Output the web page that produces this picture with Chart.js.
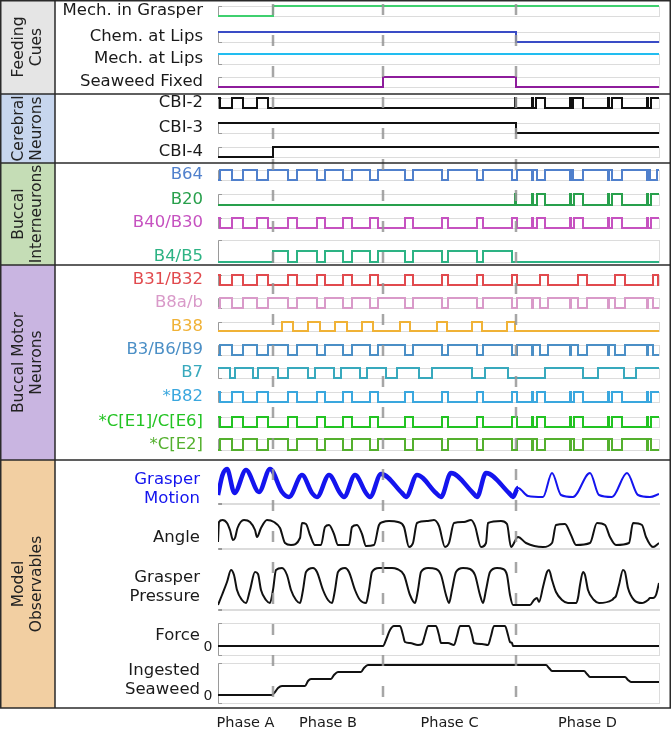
<!DOCTYPE html>
<html><head><meta charset="utf-8">
<script src="https://cdn.jsdelivr.net/npm/chart.js@4"></script>
<style>html,body{margin:0;padding:0;background:#fff;}canvas{display:block}</style>
</head><body>
<canvas id="c" width="671" height="733"></canvas>
<script>
// ---------------- DATA (time in s) ----------------
const T_END = 44.1;
const phaseNames = ['Phase A', 'Phase B', 'Phase C', 'Phase D'];
const phaseBounds = [0, 5.5, 16.5, 29.8, 44.1];
const groupNames = ['Feeding\nCues', 'Cerebral\nNeurons', 'Buccal\nInterneurons', 'Buccal Motor\nNeurons', 'Model\nObservables'];

// step traces: intervals [on, off] when the signal is high
const mechInGrasper = [[5.5, 44.1]];
const chemAtLips = [[0, 29.8]];
const mechAtLips = [[0, 44.1]];
const seaweedFixed = [[16.5, 29.8]];
const cbi2 = [[0,0.2],[1.4,2.5],[3.9,5.0],[29.7,29.8],[31.4,31.5],[31.8,32.7],[35.2,35.3],[35.5,36.5],[39.0,39.1],[39.4,40.4],[42.9,43.0],[43.3,44.1]];
const cbi3 = [[0, 29.8]];
const cbi4 = [[5.5, 44.1]];
const b64 = [[0.2,1.4],[2.5,3.9],[5.0,7.0],[7.9,9.9],[10.7,12.5],[13.4,15.2],[16.0,18.7],[19.5,22.4],[23.0,25.9],[26.5,29.4],[29.9,31.4],[31.5,31.9],[32.7,35.2],[35.3,35.5],[36.5,39.0],[39.1,39.4],[40.4,42.9],[43.0,43.2],[43.9,44.1]];
const b20 = [[29.7,29.8],[31.4,31.5],[31.9,32.7],[35.2,35.3],[35.6,36.5],[39.0,39.1],[39.4,40.4],[42.9,43.0],[43.3,44.1]];
const b40b30 = [[0,0.2],[1.4,2.5],[3.9,5.0],[7.0,7.9],[9.9,10.7],[12.5,13.4],[15.2,16.0],[18.7,19.5],[22.4,23.0],[25.9,26.5],[29.4,29.9],[31.4,31.5],[31.9,32.7],[35.2,35.3],[35.6,36.5],[39.0,39.1],[39.4,40.4],[42.9,43.0],[43.3,44.1]];
const b4b5 = [[5.5,7.0],[7.9,9.9],[10.7,12.5],[13.4,15.2],[16.0,18.7],[19.5,22.4],[23.0,25.9],[26.5,29.4]];
const b31b32 = [[0,0.2],[1.4,2.5],[3.9,5.0],[7.0,7.9],[9.9,10.7],[12.5,13.4],[15.2,16.0],[18.7,19.5],[22.4,23.0],[25.9,26.5],[29.4,29.9],[32.2,33.0],[36.0,36.9],[39.7,40.7],[43.5,44.0]];
const b8ab = [[0.2,1.4],[2.5,3.9],[5.0,7.0],[7.9,9.9],[10.7,12.5],[13.4,15.2],[16.0,18.7],[19.5,22.4],[23.0,25.9],[26.5,29.4],[29.9,31.4],[31.5,32.2],[33.0,35.2],[35.3,36.0],[36.9,39.0],[39.1,39.7],[40.7,42.9],[43.0,43.5]];
const b38 = [[6.4,7.5],[9.0,10.2],[11.7,12.9],[14.4,15.5],[18.2,19.2],[21.9,22.9],[25.4,26.4],[28.9,29.7]];
const b3b6b9 = [[0.2,1.4],[2.5,3.9],[5.0,7.0],[7.9,9.9],[10.7,12.5],[13.4,15.2],[16.0,18.7],[19.5,22.4],[23.0,25.9],[26.5,29.4],[29.9,31.4],[31.5,32.2],[33.0,35.2],[35.3,36.0],[36.9,39.0],[39.1,39.7],[40.7,42.9],[43.0,43.5]];
const b7 = [[0,1.2],[1.7,3.5],[4.0,6.0],[7.0,9.0],[9.7,11.6],[12.3,14.2],[14.9,16.8],[17.9,20.1],[21.4,25.4],[26.7,29.0],[32.7,36.5],[38.0,40.6],[41.8,44.1]];
const b82 = [[0,0.2],[1.4,2.5],[3.9,5.0],[7.0,7.9],[9.9,10.7],[12.5,13.4],[15.2,16.0],[18.7,19.5],[22.4,23.0],[25.9,26.5],[29.4,29.9],[31.4,31.5],[31.9,32.7],[35.2,35.3],[35.6,36.5],[39.0,39.1],[39.4,40.4],[42.9,43.0],[43.3,44.1]];
const cE1E6 = [[0,0.2],[1.4,2.5],[3.9,5.0],[7.0,7.9],[9.9,10.7],[12.5,13.4],[15.2,16.0],[18.7,19.5],[22.4,23.0],[25.9,26.5],[29.4,29.9],[31.4,31.5],[31.9,32.7],[35.2,35.3],[35.6,36.5],[39.0,39.1],[39.4,40.4],[42.9,43.0],[43.3,44.1]];
const cE2 = [[0.2,1.4],[2.5,3.9],[5.0,7.0],[7.9,9.9],[10.7,12.5],[13.4,15.2],[16.0,18.7],[19.5,22.4],[23.0,25.9],[26.5,29.4],[29.9,31.4],[31.5,31.9],[32.7,35.2],[35.3,35.6],[36.5,39.0],[39.1,39.4],[40.4,42.9],[43.0,43.3]];

// model observables (time, value)
const graspMotionT = [0.0,0.45,0.9,1.65,2.8,4.1,5.2,6.4,7.1,8.4,9.4,9.9,11.1,12.2,12.6,13.7,14.8,15.2,16.3,18.4,18.8,19.9,21.8,22.3,23.3,25.5,25.9,26.8,29.1,29.5,30.0,31.0,32.5,33.4,34.3,35.5,37.2,38.1,39.4,40.9,42.0,43.2,44.1];
const graspMotionV = [9,29,35,11,34,12,35,12,7,29,11,7,29,11,7,29,11,7,30,11,7,29,11,7,31,11,7,31,11,7,16,8,7,31,9,7,31,9,7,31,9,7,10];
const angleT = [0,0.1,0.45,0.9,1.2,1.5,1.7,1.95,2.6,3.2,3.7,3.9,4.3,4.9,5.6,6.2,6.7,7.3,8.2,8.4,8.8,9.2,9.7,10.3,10.7,11.1,11.6,12.0,13.1,13.4,13.9,14.4,14.8,15.6,16.1,16.5,17.1,18.0,18.6,19.1,19.5,19.9,21.0,21.6,22.1,22.7,23.1,23.6,24.6,25.3,25.7,26.3,26.8,27.0,28.3,28.9,29.3,30.0,30.8,32.5,33.4,33.8,34.7,35.3,35.8,37.2,37.9,38.7,39.2,39.8,41.1,41.5,42.4,42.8,43.5,44.1];
const angleV = [7,27,29,26,19,9,11,21,29,27,19,12,21,29,27,21,6,4,11,26,25,14,4,4,22,24,15,4,4,22,24,15,3,4,24,27,28,27,22,2,6,26,28,29,23,2,6,26,27,29,23,2,6,26,28,25,2,12,6,2,6,24,25,14,4,6,26,24,12,4,6,26,24,12,2,6];
const pressureT = [0.0,0.4,0.9,1.3,1.6,1.9,2.4,2.8,3.2,3.7,4.0,4.3,4.8,5.2,5.5,5.8,6.4,6.9,7.3,7.8,8.2,8.5,8.8,9.5,9.9,10.5,11.0,11.4,11.7,12.0,12.7,13.1,13.7,14.2,14.8,15.1,15.4,16.1,16.7,17.4,17.9,18.6,19.2,19.7,20.0,20.3,21.0,21.8,22.3,22.8,23.1,23.4,23.8,24.5,25.2,25.7,26.2,26.5,26.8,27.2,27.9,28.5,28.9,29.2,29.5,31.2,31.6,31.9,32.1,32.5,32.9,33.1,33.4,33.8,34.4,35.0,35.8,36.0,36.2,36.5,36.7,37.0,37.6,38.1,39.4,39.6,39.8,40.1,40.5,40.7,41.0,41.6,42.4,43.0,43.2,43.5,43.8,44.1];
const pressureV = [5,15,28,40,35,20,10,7,20,38,36,20,10,7,20,40,42,35,20,10,7,20,38,42,38,20,10,7,20,38,42,38,20,10,7,20,38,42,42,42,41,35,15,7,20,38,42,41,35,15,7,20,38,42,41,35,15,7,20,38,42,41,35,15,5,5,10,12,8,23,38,40,30,18,10,7,7,12,25,38,35,20,10,7,10,12,14,25,40,38,22,10,7,10,12,12,15,27];
const forceT = [0,16.5,16.8,17.2,17.6,18.2,18.5,18.7,19.2,20.0,20.4,20.7,21.0,21.8,22.1,22.3,23.0,23.6,23.9,24.2,25.1,25.4,25.6,26.4,27.0,27.3,27.6,28.7,29.0,29.2,29.4,29.5,44.1];
const forceV = [0,0,6,16,20,20,11,4,3,1,2,11,20,20,11,3,3,1,10,20,20,11,3,2,1,10,20,20,11,4,3,0,0];
const seaweedT = [0.0,5.4,5.7,6.0,6.4,8.7,9.0,9.3,11.3,11.6,12.0,14.3,14.6,15.0,32.8,33.1,33.4,36.6,36.9,37.2,40.7,41.0,41.3,44.1];
const seaweedV = [0,0,3,7,9,9,14,16,16,20,23,23,27,30,30,27,24,24,21,18,18,15,13,13];

// ---------------- LAYOUT / STYLE ----------------
const FONT = '"DejaVu Sans", Verdana, sans-serif';
const groupBg = ['#e5e5e5', '#c7d6ee', '#c5ddb6', '#c9b5e1', '#f2cfa2'];
const rows = [
  {id:'mig', g:0, label:'Mech. in Grasper', color:'#3fd06f', lc:'#1a1a1a', steps:mechInGrasper, band:[0,24], px:[6,16]},
  {id:'chem', g:0, label:'Chem. at Lips', color:'#3a4cc6', lc:'#1a1a1a', steps:chemAtLips, band:[24,47], px:[32,42]},
  {id:'mal', g:0, label:'Mech. at Lips', color:'#22bdf0', lc:'#1a1a1a', steps:mechAtLips, band:[47,70], px:[54,64]},
  {id:'sf', g:0, label:'Seaweed Fixed', color:'#8e1c9c', lc:'#1a1a1a', steps:seaweedFixed, band:[70,94], px:[77,87]},
  {id:'cbi2', g:1, label:'CBI-2', color:'#111', lc:'#1a1a1a', steps:cbi2, band:[94,117], px:[98,108]},
  {id:'cbi3', g:1, label:'CBI-3', color:'#111', lc:'#1a1a1a', steps:cbi3, band:[117,140], px:[123,133]},
  {id:'cbi4', g:1, label:'CBI-4', color:'#111', lc:'#1a1a1a', steps:cbi4, band:[140,163], px:[147,157]},
  {id:'b64', g:2, label:'B64', color:'#5080cc', steps:b64, band:[163,187], px:[170,180]},
  {id:'b20', g:2, label:'B20', color:'#28a04c', steps:b20, band:[187,211], px:[194,205]},
  {id:'b40', g:2, label:'B40/B30', color:'#c652c0', steps:b40b30, band:[211,235], px:[218,228]},
  {id:'b4', g:2, label:'B4/B5', color:'#2db384', steps:b4b5, band:[235,265], px:[251,262], boxMax:2},
  {id:'b31', g:3, label:'B31/B32', color:'#e14a4e', steps:b31b32, band:[265,290], px:[275,285]},
  {id:'b8', g:3, label:'B8a/b', color:'#d99ac9', steps:b8ab, band:[290,314], px:[298,308]},
  {id:'b38', g:3, label:'B38', color:'#f0b236', steps:b38, band:[314,337], px:[322,331]},
  {id:'b3', g:3, label:'B3/B6/B9', color:'#4b8fc6', steps:b3b6b9, band:[337,361], px:[345,355]},
  {id:'b7', g:3, label:'B7', color:'#38a9bd', steps:b7, band:[361,384], px:[368,378]},
  {id:'b82', g:3, label:'*B82', color:'#3aa7de', steps:b82, band:[384,409], px:[392,402]},
  {id:'ce1', g:3, label:'*C[E1]/C[E6]', color:'#22c322', steps:cE1E6, band:[409,432], px:[417,427]},
  {id:'ce2', g:3, label:'*C[E2]', color:'#54b02e', steps:cE2, band:[432,460], px:[439,450]},
  {id:'gm', g:4, label:'Grasper\nMotion', color:'#1414ee', t:graspMotionT, v:graspMotionV, band:[460,512], px:[468,504], vals:[0,36], thick:true, ldy:3},
  {id:'ang', g:4, label:'Angle', color:'#111', lc:'#1a1a1a', t:angleT, v:angleV, band:[512,560], px:[518,549], vals:[0,31], ldy:4},
  {id:'pr', g:4, label:'Grasper\nPressure', color:'#111', lc:'#1a1a1a', t:pressureT, v:pressureV, band:[560,614], px:[568,610], vals:[0,42], ldy:-2},
  {id:'force', g:4, label:'Force', color:'#111', lc:'#1a1a1a', t:forceT, v:forceV, band:[614,659], px:[626,646], vals:[0,20], box:[-9,23], zero:true, ldy:0},
  {id:'sw', g:4, label:'Ingested\nSeaweed', color:'#111', lc:'#1a1a1a', t:seaweedT, v:seaweedV, band:[659,708], px:[665,695], vals:[0,30], box:[-8,32], zero:true, ldy:0}
];

function stepPoints(iv) {
  const pts = [{x: 0, y: (iv.length && iv[0][0] <= 0) ? 1 : 0}];
  iv.forEach(([s, e]) => {
    if (s > 0) pts.push({x: s, y: 1});
    pts.push({x: Math.min(e, T_END), y: e >= T_END ? 1 : 0});
  });
  if (pts[pts.length - 1].x < T_END) pts.push({x: T_END, y: pts[pts.length - 1].y});
  return pts;
}

const scales = {x: {type: 'linear', min: 0, max: T_END, display: false}};
const datasets = [];
const N = rows.length;
rows.forEach((r, i) => {
  const [top, bottom] = r.band, [pHi, pLo] = r.px, [vLo, vHi] = r.vals || [0, 1];
  const ppu = (pLo - pHi) / (vHi - vLo);
  scales[r.id] = {type: 'linear', position: 'left', stack: 'rows', stackWeight: bottom - top, weight: N - i,
    min: vLo - (bottom - pLo) / ppu, max: vHi + (pHi - top) / ppu, display: false};
  if (r.steps) {
    datasets.push({data: stepPoints(r.steps), yAxisID: r.id, xAxisID: 'x', borderColor: r.color,
      borderWidth: 2, pointRadius: 0, stepped: 'before', fill: false});
  } else {
    const ds = {data: r.t.map((t, k) => ({x: t, y: r.v[k]})), yAxisID: r.id, xAxisID: 'x', borderColor: r.color,
      borderWidth: 2, pointRadius: 0, fill: false, cubicInterpolationMode: 'monotone'};
    if (r.thick) ds.segment = {borderWidth: c => (c.p0.parsed.x < phaseBounds[3] ? 4.5 : 2)};
    datasets.push(ds);
  }
});

const deco = {
  id: 'deco',
  beforeDatasetsDraw(chart) {
    const ctx = chart.ctx, ca = chart.chartArea;
    ctx.save();
    const groups = groupNames.map((n, g) => {
      const rs = rows.filter(r => r.g === g);
      return {top: chart.scales[rs[0].id].top, bottom: chart.scales[rs[rs.length - 1].id].bottom};
    });
    groups.forEach((gr, g) => {
      ctx.fillStyle = groupBg[g];
      ctx.fillRect(0, gr.top, 55, gr.bottom - gr.top);
      ctx.save();
      ctx.translate(28, (gr.top + gr.bottom) / 2);
      ctx.rotate(-Math.PI / 2);
      ctx.fillStyle = '#222';
      ctx.font = '15.5px ' + FONT;
      ctx.textAlign = 'center';
      ctx.textBaseline = 'middle';
      const lines = groupNames[g].split('\n');
      lines.forEach((l, k) => ctx.fillText(l, 0, (k - (lines.length - 1) / 2) * 18));
      ctx.restore();
    });
    rows.forEach(r => {
      const s = chart.scales[r.id];
      const [bLo, bHi] = r.box || [0, r.boxMax || 1];
      const yT = s.getPixelForValue(bHi), yB = s.getPixelForValue(bLo);
      ctx.strokeStyle = '#dcdcdc';
      ctx.lineWidth = 1;
      ctx.strokeRect(ca.left + 0.5, Math.round(yT) + 0.5, ca.right - ca.left, Math.round(yB - yT));
      ctx.strokeStyle = '#9a9a9a';
      ctx.beginPath();
      ctx.moveTo(ca.left + 4, Math.round(yT) + 0.5); ctx.lineTo(ca.left + 0.5, Math.round(yT) + 0.5);
      ctx.lineTo(ca.left + 0.5, Math.round(yB) + 0.5); ctx.lineTo(ca.left + 4, Math.round(yB) + 0.5);
      ctx.stroke();
      const [vLo, vHi] = r.vals || [0, 1];
      const yc = (s.getPixelForValue(vLo) + s.getPixelForValue(vHi)) / 2 + (r.ldy || 0);
      ctx.fillStyle = r.lc || r.color;
      ctx.font = '16.5px ' + FONT;
      ctx.textAlign = 'right';
      ctx.textBaseline = 'middle';
      const lines = r.label.split('\n');
      const xr = r.g === 4 ? ca.left - 18 : ca.left - 15;
      lines.forEach((l, k) => ctx.fillText(l, xr, yc + (k - (lines.length - 1) / 2) * 19));
      if (r.zero) {
        ctx.fillStyle = '#1a1a1a';
        ctx.font = '14px ' + FONT;
        ctx.textAlign = 'center';
        ctx.fillText('0', ca.left - 10, s.getPixelForValue(0) + 1);
      }
    });
    ctx.restore();
  },
  afterDatasetsDraw(chart) {
    const ctx = chart.ctx, ca = chart.chartArea, xs = chart.scales.x;
    ctx.save();
    ctx.strokeStyle = 'rgba(150,150,150,0.85)';
    ctx.lineWidth = 2.5;
    ctx.setLineDash([11, 20]);
    phaseBounds.slice(1, -1).forEach(t => {
      const x = Math.round(xs.getPixelForValue(t));
      ctx.beginPath(); ctx.moveTo(x, ca.top + 4); ctx.lineTo(x, ca.bottom); ctx.stroke();
    });
    ctx.setLineDash([]);
    ctx.strokeStyle = '#2a2a2a';
    ctx.lineWidth = 1.5;
    const firstIds = [0, 1, 2, 3, 4].map(g => rows.find(r => r.g === g).id);
    const ys = firstIds.map(id => chart.scales[id].top).concat([ca.bottom]);
    ys.forEach(y => { ctx.beginPath(); ctx.moveTo(0, Math.max(y, 0.75)); ctx.lineTo(671, Math.max(y, 0.75)); ctx.stroke(); });
    ctx.beginPath();
    ctx.moveTo(0.75, 0); ctx.lineTo(0.75, ca.bottom);
    ctx.moveTo(55, 0); ctx.lineTo(55, ca.bottom);
    ctx.moveTo(670.25, 0); ctx.lineTo(670.25, ca.bottom);
    ctx.stroke();
    ctx.fillStyle = '#1a1a1a';
    ctx.font = '14.5px ' + FONT;
    ctx.textAlign = 'center';
    ctx.textBaseline = 'middle';
    phaseNames.forEach((p, k) => {
      const xm = (xs.getPixelForValue(phaseBounds[k]) + xs.getPixelForValue(phaseBounds[k + 1])) / 2;
      ctx.fillText(p, xm, 723);
    });
    ctx.restore();
  }
};

new Chart(document.getElementById('c'), {
  type: 'line',
  data: {datasets},
  options: {
    responsive: false, animation: false, devicePixelRatio: 1,
    layout: {padding: {left: 218, right: 12, top: 0, bottom: 25}},
    plugins: {legend: {display: false}, tooltip: {enabled: false}, title: {display: false}},
    scales
  },
  plugins: [deco]
});
</script>
</body></html>
